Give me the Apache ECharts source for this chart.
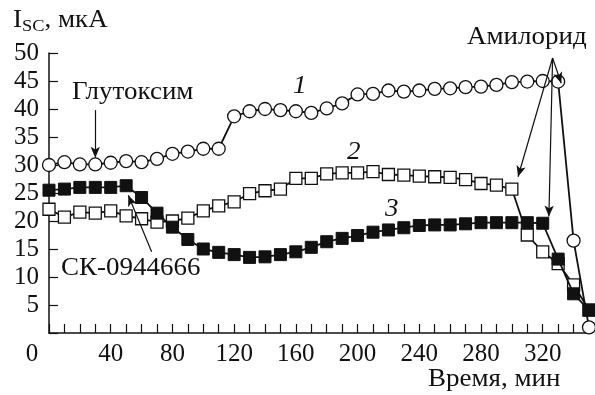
<!DOCTYPE html>
<html>
<head>
<meta charset="utf-8">
<script src="https://cdn.jsdelivr.net/npm/echarts@6/dist/echarts.min.js"></script>
<style>
  html, body { margin: 0; padding: 0; background: #fff; }
  #chart { width: 595px; height: 395px; }
</style>
</head>
<body>
<div id="chart"></div>
<script>
// время, мин
var times = [0, 10, 20, 30, 40, 50, 60, 70, 80, 90, 100, 110, 120, 130, 140, 150, 160, 170,
             180, 190, 200, 210, 220, 230, 240, 250, 260, 270, 280, 290, 300, 310, 320, 330, 340, 350];
// кривая 1 (открытые кружки)
var curve1 = [30.0, 30.5, 30.1, 30.1, 30.4, 30.7, 30.5, 31.1, 32.0, 32.4, 32.9, 32.9, 38.7, 39.6, 40.0, 39.8, 39.6, 39.3,
              40.1, 41.0, 42.6, 42.7, 43.3, 43.1, 43.3, 43.6, 43.7, 43.9, 44.0, 44.3, 44.8, 44.9, 45.0, 44.9, 16.5, 1.0];
// кривая 2 (открытые квадраты)
var curve2 = [22.1, 20.7, 21.6, 21.4, 21.8, 20.9, 20.4, 19.8, 20.0, 20.5, 21.8, 22.7, 23.4, 24.9, 25.4, 25.7, 27.6, 27.6,
              28.4, 28.6, 28.6, 28.8, 28.3, 28.2, 28.0, 27.9, 27.8, 27.4, 26.7, 26.4, 25.7, 17.5, 14.5, 12.4, 8.6, 4.1];
// кривая 3 (закрашенные квадраты)
var curve3 = [25.5, 25.7, 26.0, 26.0, 26.0, 26.3, 24.2, 21.4, 18.9, 16.7, 15.0, 14.4, 14.0, 13.5, 13.6, 14.0, 14.5, 15.3,
              16.3, 16.9, 17.4, 18.0, 18.4, 18.8, 19.2, 19.3, 19.3, 19.5, 19.7, 19.7, 19.7, 19.7, 19.6, 13.2, 7.0, 4.1];
var xTickLabels = [0, 40, 80, 120, 160, 200, 240, 280, 320];
var yTickLabels = [5, 10, 15, 20, 25, 30, 35, 40, 45, 50];

// стрелки-аннотации (в координатах данных)
var arrows = [
    [[30, 39.8], [30, 31.3]],      // Глутоксим
    [[66.5, 14.5], [51.4, 24.6]],  // СК-0944666
    [[326.4, 49.1], [304, 27.9]],  // Амилорид -> 2
    [[326.4, 49.1], [324, 20.8]],  // Амилорид -> 3
    [[326.4, 49.1], [332, 44.6]]   // Амилорид -> 1
];

var FONT = '"Liberation Serif", "DejaVu Serif", serif';
var FS = 25;

function pairs(vals) {
    var out = [];
    for (var i = 0; i < times.length; i++) {
        out.push([times[i], vals[i]]);
    }
    return out;
}

// подписи на поле графика
function label(txt, x, y, italic) {
    return {
        type: 'text', left: x, top: y, scaleX: 1.08,
        style: { text: txt, font: (italic ? 'italic ' : '') + FS + 'px ' + FONT, fill: '#111' }
    };
}

var chart = echarts.init(document.getElementById('chart'));

var lineStyle = { color: '#111', width: 1.8 };

chart.setOption({
    animation: false,
    backgroundColor: '#fff',
    grid: { left: 49, right: 6, top: 53, bottom: 62 },
    xAxis: {
        type: 'value', min: 0, max: 350, interval: 10,
        splitLine: { show: false },
        axisLine: { lineStyle: { color: '#111', width: 1.5 } },
        axisTick: { inside: true, length: 9, lineStyle: { color: '#111', width: 1.2 } },
        axisLabel: {
            margin: 9, color: '#111', fontFamily: FONT, fontSize: FS,
            formatter: function (v) {
                if (xTickLabels.indexOf(v) < 0) return '';
                return v === 0 ? '{z|0}' : String(v);
            },
            rich: { z: { fontFamily: FONT, fontSize: FS, color: '#111', padding: [0, 34, 0, 0] } }
        }
    },
    yAxis: {
        type: 'value', min: 0, max: 50, interval: 5,
        splitLine: { show: false },
        axisLine: { show: true, lineStyle: { color: '#111', width: 1.5 } },
        axisTick: { show: true, inside: true, length: 9, lineStyle: { color: '#111', width: 1.2 } },
        axisLabel: {
            margin: 10, color: '#111', fontFamily: FONT, fontSize: FS,
            formatter: function (v) {
                return yTickLabels.indexOf(v) < 0 ? '' : String(v);
            }
        }
    },
    series: [
        {
            type: 'line', data: pairs(curve2), symbol: 'rect', symbolSize: 12,
            lineStyle: lineStyle,
            itemStyle: { color: '#fff', borderColor: '#111', borderWidth: 1.3 },
            z: 2
        },
        {
            type: 'line', data: pairs(curve3), symbol: 'rect', symbolSize: 12,
            lineStyle: lineStyle,
            itemStyle: { color: '#111', borderColor: '#111', borderWidth: 1 },
            z: 3
        },
        {
            type: 'line', data: pairs(curve1), symbol: 'circle', symbolSize: 13,
            lineStyle: lineStyle,
            itemStyle: { color: '#fff', borderColor: '#111', borderWidth: 1.3 },
            z: 4,
            markLine: {
                silent: true, symbol: ['none', 'arrow'], symbolSize: [7, 11],
                label: { show: false },
                lineStyle: { color: '#111', width: 1.2, type: 'solid' },
                data: arrows.map(function (a) {
                    return [{ coord: a[0] }, { coord: a[1] }];
                })
            }
        }
    ],
    graphic: [
        {
            type: 'text', left: 13, top: 8, scaleX: 1.08,
            style: {
                text: '{a|I}{b|SC}{a|, мкА}',
                rich: {
                    a: { fontFamily: FONT, fontSize: FS, fill: '#111' },
                    b: { fontFamily: FONT, fontSize: 17, fill: '#111', padding: [12, 0, 0, 0] }
                }
            }
        },
        label('Глутоксим', 72, 80),
        label('Амилорид', 467, 25),
        label('СК-0944666', 61, 256),
        label('Время, мин', 428, 367),
        label('1', 293, 74, true),
        label('2', 347, 140, true),
        label('3', 385, 197, true)
    ]
});
</script>
</body>
</html>
